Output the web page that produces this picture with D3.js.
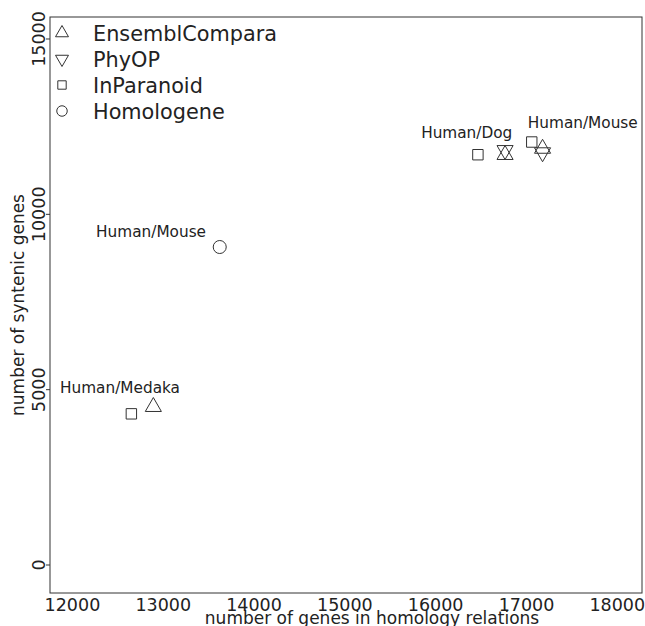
<!DOCTYPE html>
<html>
<head>
<meta charset="utf-8">
<script src="https://cdn.jsdelivr.net/npm/d3@7"></script>
<style>
  html, body { margin: 0; padding: 0; background: #fff; }
  svg { display: block; }
  text { font-family: "DejaVu Sans", sans-serif; fill: #222; }
</style>
</head>
<body>
<svg id="chart" width="645" height="626"></svg>
<script>
// ---- data ----
const methods = ["EnsemblCompara", "PhyOP", "InParanoid", "Homologene"];
const shapes = ["triangleUp", "triangleDown", "square", "circle"];
const pointMethod = ["EnsemblCompara", "InParanoid", "Homologene", "InParanoid", "EnsemblCompara", "PhyOP", "InParanoid", "EnsemblCompara", "PhyOP"];
const pointPair   = ["Human/Medaka", "Human/Medaka", "Human/Mouse", "Human/Dog", "Human/Dog", "Human/Dog", "Human/Mouse", "Human/Mouse", "Human/Mouse"];
const homologyGenes = [12891, 12649, 13622, 16465, 16764, 16764, 17058, 17177, 17177];
const syntenicGenes = [4511, 4311, 9068, 11700, 11697, 11828, 12062, 11874, 11765];
const labelText = ["Human/Medaka", "Human/Mouse", "Human/Dog", "Human/Mouse"];
const labelX = [12524, 12866, 16342, 17620];
const labelY = [4904, 9344, 12184, 12452];
const xTicks = [12000, 13000, 14000, 15000, 16000, 17000, 18000];
const yTicks = [0, 5000, 10000, 15000];

// ---- layout ----
const svg = d3.select("#chart");
const pL = 50, pR = 642, pT = 17, pB = 593;
const x = d3.scaleLinear().domain([11753, 18272]).range([pL, pR]);
const y = d3.scaleLinear().domain([-798, 15627]).range([pB, pT]);

function marker(shape, r) {
  if (shape === "triangleUp") {
    return `M0,${-r}L${r*0.866},${r/2}L${-r*0.866},${r/2}Z`;
  } else if (shape === "triangleDown") {
    return `M0,${r}L${r*0.866},${-r/2}L${-r*0.866},${-r/2}Z`;
  } else if (shape === "square") {
    const s = r * 0.56;
    return `M${-s},${-s}H${s}V${s}H${-s}Z`;
  } else {
    const c = r * 0.7;
    return `M${c},0A${c},${c} 0 1,1 ${-c},0A${c},${c} 0 1,1 ${c},0Z`;
  }
}
const shapeOf = m => shapes[methods.indexOf(m)];

// box
svg.append("rect").attr("x", pL).attr("y", pT)
  .attr("width", pR - pL).attr("height", pB - pT)
  .attr("fill", "none").attr("stroke", "#333").attr("stroke-width", 1);

// x axis labels
svg.append("g").selectAll("text").data(xTicks).join("text")
  .attr("x", d => x(d)).attr("y", 611)
  .attr("text-anchor", "middle").attr("font-size", 17.5)
  .text(d => d);

// y axis ticks + labels
const yg = svg.append("g");
yg.selectAll("line").data(yTicks).join("line")
  .attr("x1", pL - 4).attr("x2", pL)
  .attr("y1", d => y(d)).attr("y2", d => y(d))
  .attr("stroke", "#333");
yg.selectAll("text").data(yTicks).join("text")
  .attr("transform", d => `translate(45,${y(d)}) rotate(-90)`)
  .attr("text-anchor", "middle").attr("font-size", 17.5)
  .text(d => d);

// axis titles
svg.append("text").attr("x", 372).attr("y", 623.5)
  .attr("text-anchor", "middle").attr("font-size", 17)
  .text("number of genes in homology relations");
svg.append("text")
  .attr("transform", `translate(24,${(pT + pB) / 2}) rotate(-90)`)
  .attr("text-anchor", "middle").attr("font-size", 17)
  .text("number of syntenic genes");

// points
svg.append("g").selectAll("path").data(homologyGenes).join("path")
  .attr("transform", (d, i) => `translate(${x(d)},${y(syntenicGenes[i])})`)
  .attr("d", (d, i) => marker(shapeOf(pointMethod[i]), 9.3))
  .attr("fill", "none").attr("stroke", "#333").attr("stroke-width", 1);

// point labels
svg.append("g").selectAll("text").data(labelText).join("text")
  .attr("x", (d, i) => x(labelX[i])).attr("y", (d, i) => y(labelY[i]))
  .attr("text-anchor", "middle").attr("font-size", 15.3)
  .text(d => d);

// legend
const lg = svg.append("g");
methods.forEach((m, i) => {
  const cy = 33 + i * 26;
  lg.append("path").attr("transform", `translate(62,${cy})`)
    .attr("d", marker(shapes[i], 7.5))
    .attr("fill", "none").attr("stroke", "#333").attr("stroke-width", 1);
  lg.append("text").attr("x", 93).attr("y", cy + 7.5)
    .attr("font-size", 20.8).text(m);
});
</script>
</body>
</html>
